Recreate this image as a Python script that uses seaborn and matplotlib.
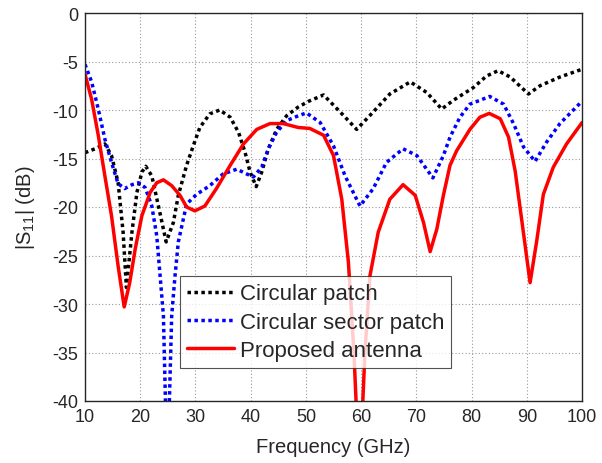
import numpy as np
import pandas as pd
import matplotlib
matplotlib.use("Agg")
import matplotlib.pyplot as plt
import seaborn as sns

# Circular patch
f_cp = [10, 11.8, 13.6, 14.8, 16.0, 16.9, 17.5, 18.5, 19.4, 20.3, 21.0, 22.1, 23.3, 24.7,
        26.0, 26.9, 28.4, 29.6, 30.8, 32.6, 34.4, 36.3, 37.8, 39.0, 39.9, 41.0, 42.0, 43.2,
        44.7, 46.5, 48.6, 50.5, 53.2, 56.2, 59.2, 62.2, 65.2, 68.9, 71.9, 74.6, 76.7, 80.3,
        82.7, 84.8, 87.0, 90.3, 92.4, 96.0, 100]
s_cp = [-14.4, -14.0, -13.5, -14.7, -17.5, -22.6, -28.3, -22.6, -18.5, -16.4, -15.8, -16.8,
        -19.9, -23.6, -21.6, -18.8, -15.7, -13.7, -11.8, -10.4, -10.0, -10.75, -12.3, -14.4,
        -16.4, -17.9, -16.4, -14.0, -12.0, -10.6, -9.7, -9.1, -8.45, -10.2, -12.0, -10.2,
        -8.35, -7.1, -8.2, -9.9, -9.0, -7.7, -6.5, -5.95, -6.6, -8.35, -7.5, -6.6, -5.8]

# Circular sector patch
f_csp = [10, 11.2, 12.4, 13.6, 14.8, 16.0, 17.2, 18.5, 19.7, 20.9, 22.1, 23.0, 23.6, 24.2,
         24.9, 25.7, 26.3, 26.9, 28.4, 30.2, 32.6, 35.0, 37.5, 39.3, 40.5, 42.0, 43.2, 44.7,
         46.5, 48.6, 50.1, 52.6, 55.0, 57.1, 59.8, 62.2, 64.6, 67.6, 70.1, 73.0, 74.9, 76.1,
         77.9, 79.7, 83.3, 85.8, 87.6, 89.4, 91.5, 93.6, 96.0, 100]
s_csp = [-5.3, -7.1, -9.9, -13.0, -15.4, -17.6, -18.1, -17.7, -17.5, -18.0, -19.9, -23.0,
         -27.1, -31.2, -48.0, -31.2, -27.1, -23.6, -19.7, -18.7, -17.8, -16.6, -16.1, -16.6,
         -16.9, -15.9, -14.0, -12.3, -11.1, -10.6, -10.3, -11.3, -13.7, -16.8, -19.9, -18.1,
         -15.4, -14.0, -14.7, -17.0, -14.7, -12.8, -10.75, -9.4, -8.6, -9.4, -11.4, -13.8,
         -15.3, -13.3, -11.4, -9.1]

# Proposed antenna
f_pa = [10, 11.2, 12.4, 13.6, 14.8, 16.0, 17.1, 18.1, 19.1, 20.3, 21.8, 23.0, 24.2, 25.7,
        27.2, 28.4, 29.9, 31.7, 33.8, 36.3, 38.7, 41.1, 43.5, 45.9, 48.6, 50.7, 53.2, 55.0,
        56.5, 57.7, 58.7, 59.7, 60.7, 61.6, 63.1, 65.2, 67.6, 69.8, 71.3, 72.5, 73.7, 74.9,
        76.1, 77.3, 79.7, 81.5, 83.2, 85.2, 86.7, 87.9, 89.1, 90.6, 91.8, 93.0, 94.8, 97.2,
        100]
s_pa = [-6.3, -8.9, -12.6, -16.8, -20.9, -26.1, -30.3, -27.8, -24.3, -20.9, -18.5, -17.5,
        -17.2, -17.8, -18.8, -20.0, -20.4, -19.9, -18.1, -15.7, -13.5, -12.0, -11.4, -11.4,
        -11.8, -11.9, -12.6, -14.7, -19.2, -25.7, -35.0, -48.0, -34.9, -27.1, -22.6, -19.2,
        -17.7, -18.8, -21.6, -24.6, -22.3, -18.8, -15.7, -14.2, -12.0, -10.75, -10.35, -10.9,
        -12.8, -16.3, -21.4, -27.8, -23.5, -18.7, -15.9, -13.5, -11.3]

labels = ["Circular patch", "Circular sector patch", "Proposed antenna"]
x_ticks = [10, 20, 30, 40, 50, 60, 70, 80, 90, 100]
y_ticks = [0, -5, -10, -15, -20, -25, -30, -35, -40]

df = pd.concat([
    pd.DataFrame({"f": f_cp, "s": s_cp, "series": labels[0]}),
    pd.DataFrame({"f": f_csp, "s": s_csp, "series": labels[1]}),
    pd.DataFrame({"f": f_pa, "s": s_pa, "series": labels[2]}),
], ignore_index=True)

sns.set_style("white")
plt.rcParams['font.family'] = ['Liberation Sans', 'DejaVu Sans']
plt.rcParams['axes.unicode_minus'] = False

fig = plt.figure(figsize=(6.02, 4.64), dpi=100)
ax = fig.add_axes([85/602, 1 - 402/464, (582-85)/602, (402-14)/464])

styles = {labels[0]: dict(color="black", ls=(0, (1, 1)), lw=2.5),
          labels[1]: dict(color="blue", ls=(0, (1, 1)), lw=2.5),
          labels[2]: dict(color="red", ls="-", lw=2.5)}
for lab in labels:
    sub = df[df.series == lab]
    sns.lineplot(data=sub, x="f", y="s", ax=ax, label=lab, sort=False,
                 estimator=None, **styles[lab])

ax.set_xlim(10, 100)
ax.set_ylim(-40, 0)
ax.set_xticks(x_ticks)
ax.set_yticks(y_ticks)
ax.tick_params(direction="in", labelsize=13, length=4, color="#262626", pad=5)
ax.grid(True, ls=(0, (1, 2)), color="#999999", lw=0.8)
for sp in ax.spines.values():
    sp.set_color("#262626")
    sp.set_linewidth(1)
ax.set_xlabel("Frequency (GHz)", fontsize=14.5, color="#262626", labelpad=9)
ax.set_ylabel(r"$\mathregular{|S_{11}|}$ (dB)", fontsize=14.5, color="#262626", labelpad=11)

leg = ax.legend(loc="lower left", bbox_to_anchor=((180-85)/497, (402-369)/388),
                fontsize=16, frameon=True, fancybox=False, edgecolor="#262626",
                handlelength=2.1, handletextpad=0.25, labelspacing=0.32,
                borderpad=0.33, borderaxespad=0)
leg.get_frame().set_linewidth(0.8)

fig.savefig("out.png", dpi=100)
